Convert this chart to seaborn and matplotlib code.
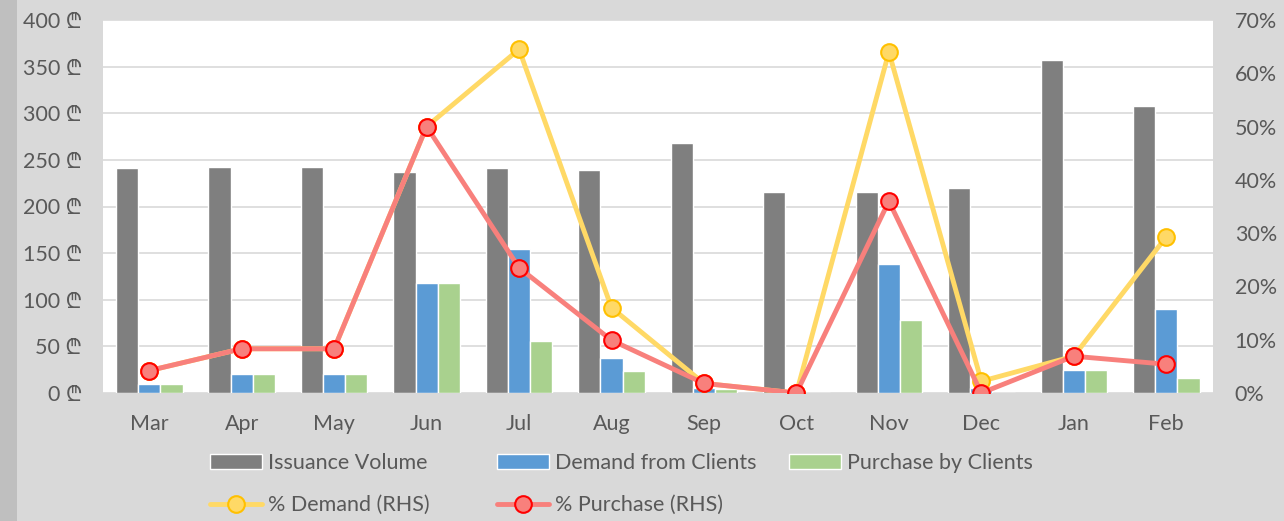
import numpy as np
import pandas as pd
import matplotlib
matplotlib.use("Agg")
import matplotlib.pyplot as plt
from matplotlib.patches import Patch, Rectangle
from matplotlib.lines import Line2D
import seaborn as sns

months = ["Mar", "Apr", "May", "Jun", "Jul", "Aug", "Sep", "Oct", "Nov", "Dec", "Jan", "Feb"]
issuance = [241, 242, 242, 237, 241, 239, 268, 216, 216, 220, 357, 308]
demand = [10, 20, 20, 118, 154, 38, 5, 0, 138, 5, 25, 90]
purchase = [10, 20, 20, 118, 56, 24, 4, 0, 78, 0, 25, 16]
pct_demand = [4.2, 8.3, 8.3, 50.0, 64.5, 16.0, 1.8, 0.0, 64.0, 2.2, 6.9, 29.3]
pct_purchase = [4.2, 8.3, 8.3, 50.0, 23.5, 9.9, 1.8, 0.0, 36.0, 0.0, 6.9, 5.4]

series_names = ["Issuance Volume", "Demand from Clients", "Purchase by Clients"]
bar_colors = ["#7F7F7F", "#5B9BD5", "#A9D18E"]

df = pd.DataFrame({
    "month": months * 3,
    "value": issuance + demand + purchase,
    "series": [s for s in series_names for _ in months],
})

sns.set_style("white")
plt.rcParams["font.family"] = ["Lato", "DejaVu Sans", "Noto Sans"]
txt = "#595959"
bg = "#D9D9D9"
fs = 15.5

fig = plt.figure(figsize=(12.84, 5.21), dpi=100, facecolor=bg)
fig.patches.append(Rectangle((0, 0), 17 / 1284, 1, transform=fig.transFigure,
                             facecolor="#BFBFBF", edgecolor="none", zorder=0))
ax = fig.add_axes([103 / 1284, 1 - 393 / 521, (1212.5 - 103) / 1284, 373 / 521])
ax.set_facecolor("white")

sns.barplot(data=df, x="month", y="value", hue="series", palette=bar_colors,
            width=0.72, gap=0, ax=ax, legend=False, saturation=1)
ax.set_ylim(0, 400)
ax.set_yticks(np.arange(0, 401, 50))
ax.set_yticklabels([f"{v} \u20be" for v in range(0, 401, 50)])
ax.set_xlim(-0.5, 11.5)
ax.yaxis.grid(True, color="#D9D9D9", lw=1.2)
ax.set_axisbelow(True)
ax.set_xlabel("")
ax.set_ylabel("")
for sp in ax.spines.values():
    sp.set_visible(False)
ax.tick_params(axis="x", length=0, labelsize=fs, colors=txt, pad=15)
ax.tick_params(axis="y", length=0, labelsize=fs, colors=txt, pad=15)

ax2 = ax.twinx()
x = np.arange(len(months))
sns.lineplot(x=x, y=pct_demand, ax=ax2, color="#FFD966", lw=3.5, marker="o",
             markersize=12, markerfacecolor="#FFD966", markeredgecolor="#FFC000",
             markeredgewidth=1.5, zorder=3)
sns.lineplot(x=x, y=pct_purchase, ax=ax2, color="#F8807C", lw=3.5, marker="o",
             markersize=12, markerfacecolor="#F8807C", markeredgecolor="#FF0000",
             markeredgewidth=1.5, zorder=4)
ax2.set_ylim(0, 70)
ax2.set_yticks(np.arange(0, 71, 10))
ax2.set_yticklabels([f"{v}%" for v in range(0, 71, 10)])
ax2.set_xlim(-0.5, 11.5)
for sp in ax2.spines.values():
    sp.set_visible(False)
ax2.tick_params(axis="y", length=0, labelsize=fs, colors=txt, pad=16)
ax2.set_ylabel("")

handles = [
    Patch(facecolor=bar_colors[0]),
    Patch(facecolor=bar_colors[1]),
    Patch(facecolor=bar_colors[2]),
    Line2D([], [], color="#FFD966", lw=3.5, marker="o", markersize=12,
           markerfacecolor="#FFD966", markeredgecolor="#FFC000", markeredgewidth=1.5),
    Line2D([], [], color="#F8807C", lw=3.5, marker="o", markersize=12,
           markerfacecolor="#F8807C", markeredgecolor="#FF0000", markeredgewidth=1.5),
]
labels = series_names + ["% Demand (RHS)", "% Purchase (RHS)"]
spots = [(210, 463), (497, 463), (789, 463), (210, 505), (497, 505)]
for h, lab, (px, py) in zip(handles, labels, spots):
    fig.legend([h], [lab], loc="center left", bbox_to_anchor=(px / 1284, 1 - py / 521),
               frameon=False, fontsize=fs, labelcolor=txt, handlelength=2.4,
               handleheight=0.65, handletextpad=0.3, borderpad=0, borderaxespad=0)

fig.savefig("out.png", dpi=100, facecolor=bg)
